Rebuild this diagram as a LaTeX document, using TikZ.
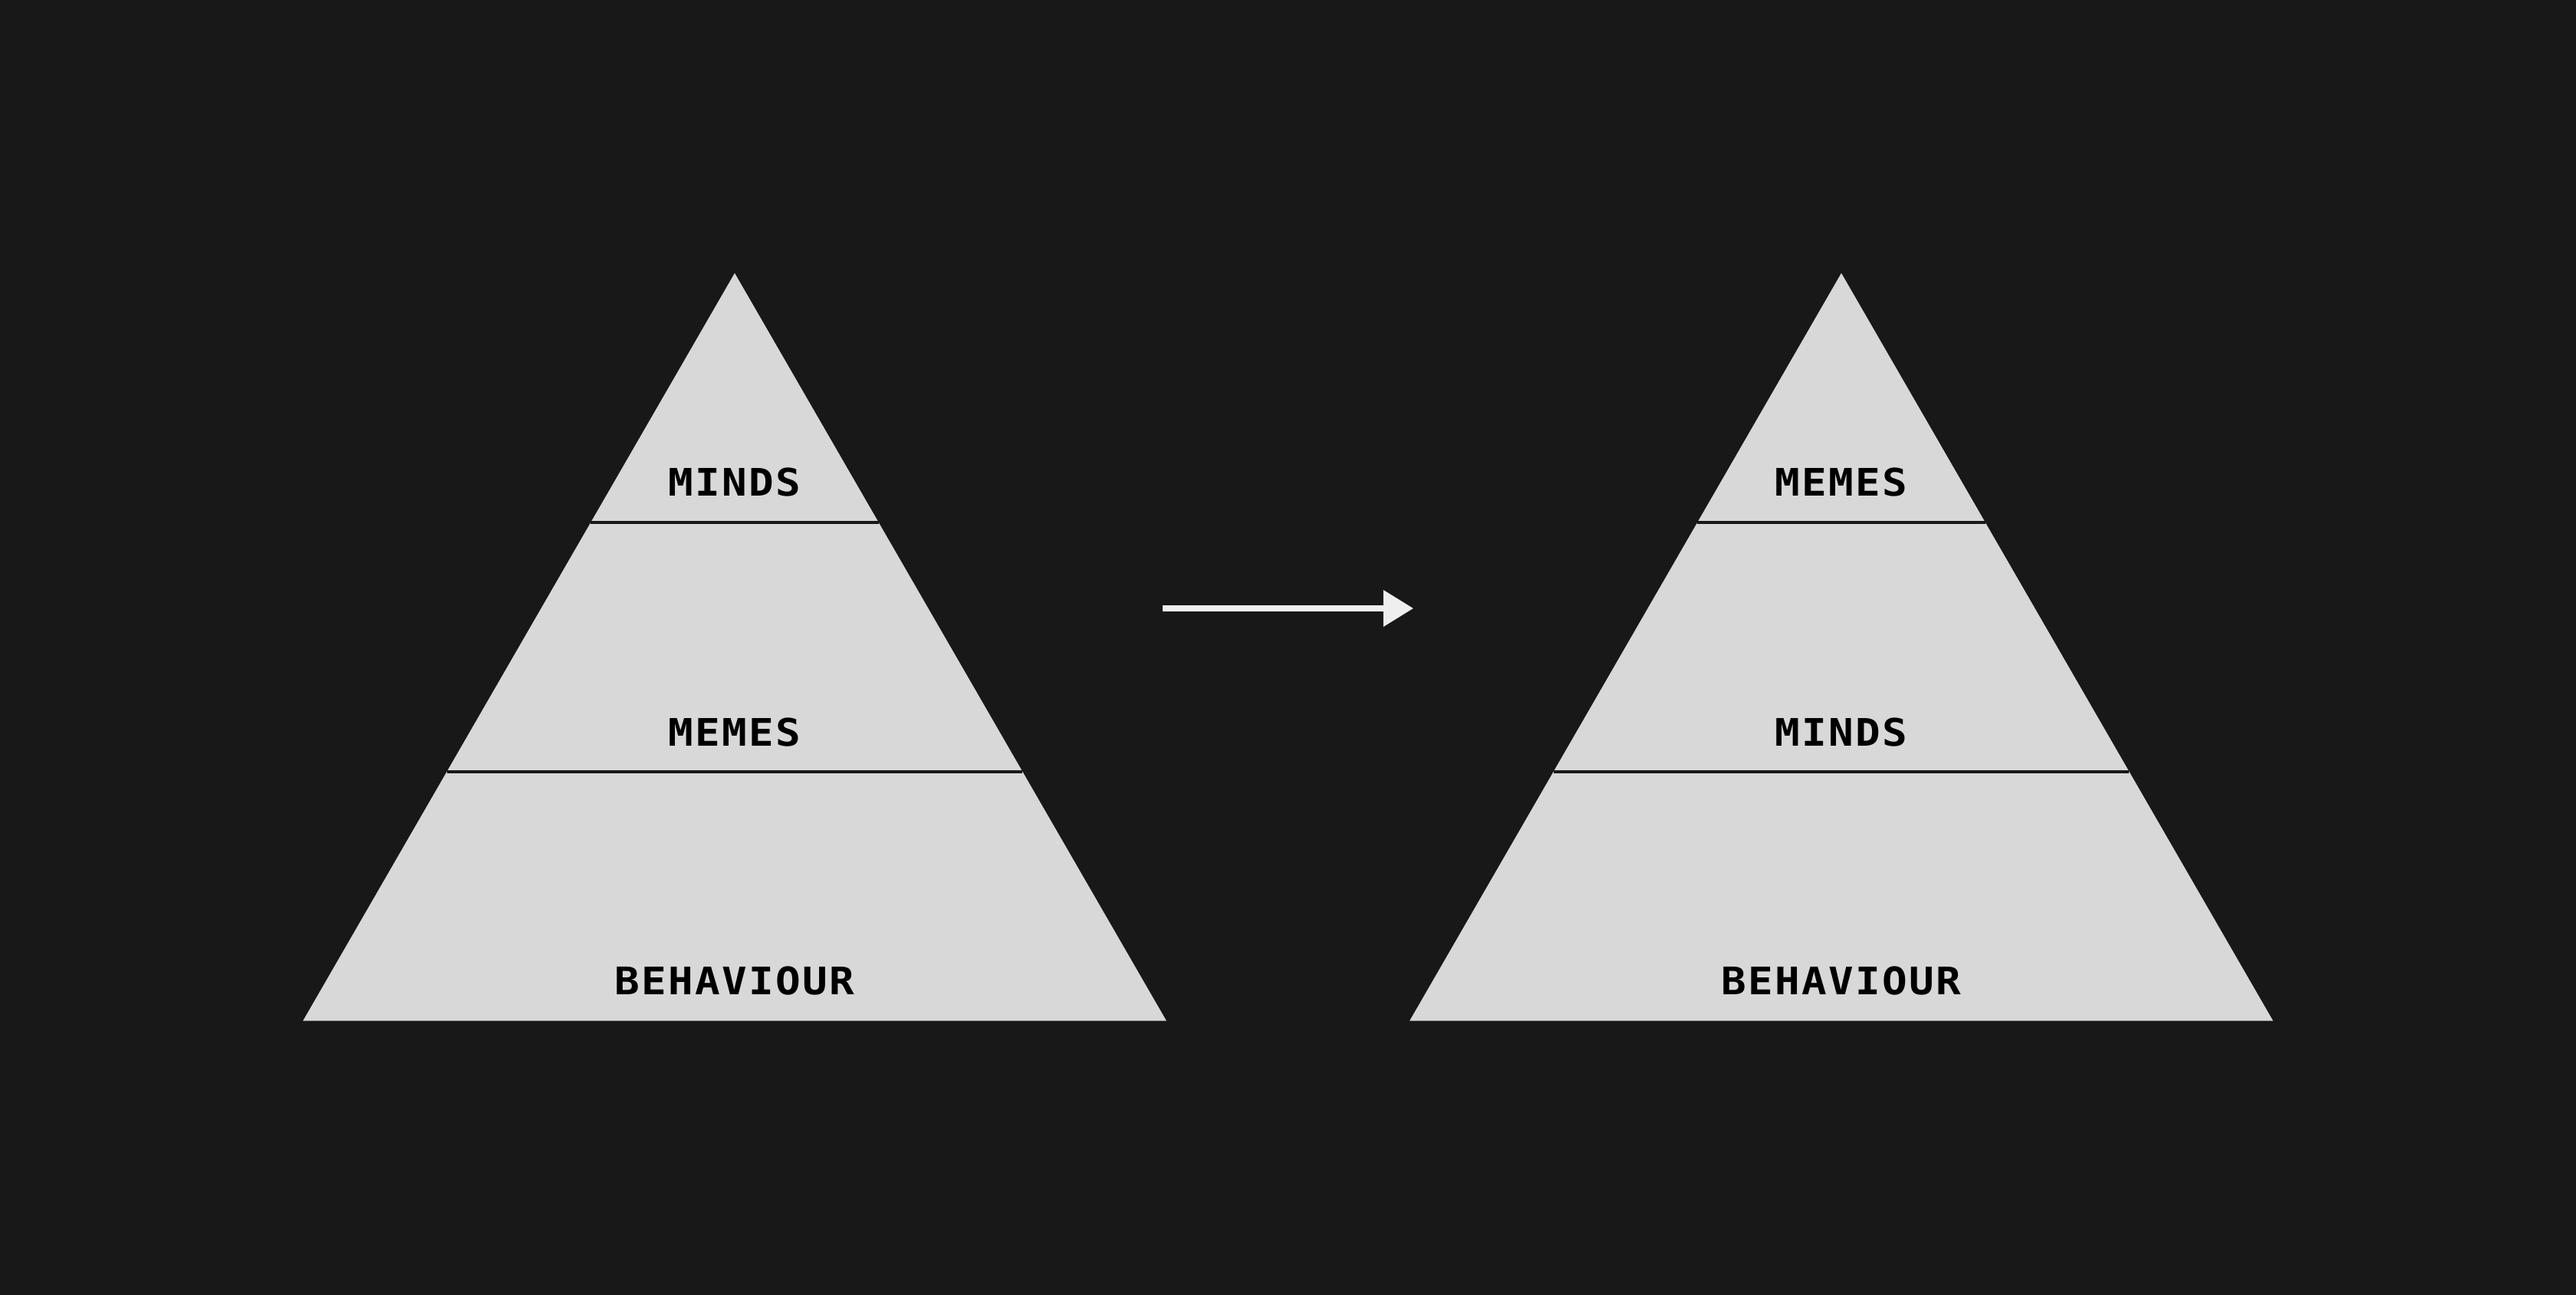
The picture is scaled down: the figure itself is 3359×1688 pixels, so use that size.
\documentclass[tikz,border=0pt]{standalone}
\usepackage{fontspec}
\newfontfamily\pyrfont{DejaVu Sans Mono}[FakeStretch=1.1,LetterSpace=4.6]
\usetikzlibrary{arrows.meta,calc}
\definecolor{bgcol}{HTML}{181818}
\definecolor{pyrcol}{HTML}{D8D8D8}
\definecolor{arrcol}{HTML}{EFEFEF}
\tikzset{
  layer/.style={fill=pyrcol},
  sep/.style={draw=bgcol,line width=0.95pt},
  lbl/.style={anchor=base,inner sep=0pt,text=black,font=\pyrfont\bfseries\fontsize{12.35}{14}\selectfont},
  arr/.style={draw=arrcol,line width=1.93pt,-{Triangle[length=9.8pt,width=11.5pt]}}
}
\begin{document}
\begin{tikzpicture}[x=0.25pt,y=-0.25pt]
%Фон
\fill[bgcol] (0,0) rectangle (3359,1688);
\useasboundingbox (0,0) rectangle (3359,1688);

%Левая пирамида
\coordinate (LA) at (958,356);
\coordinate (LL) at (395,1330.7);
\coordinate (LR) at (1521,1330.7);
\fill[layer] (LA)--(LL)--(LR)--cycle;
\draw[sep] ($(LA)!1/3!(LL)$)--($(LA)!1/3!(LR)$);
\draw[sep] ($(LA)!2/3!(LL)$)--($(LA)!2/3!(LR)$);
\node[lbl] (lminds) at (958,647) {MINDS};
\node[lbl] (lmemes) at (958,972) {MEMES};
\node[lbl] (lbeh) at (958,1296) {BEHAVIOUR};

%Правая пирамида
\coordinate (RA) at (2401,356);
\coordinate (RL) at (1838,1330.7);
\coordinate (RR) at (2964,1330.7);
\fill[layer] (RA)--(RL)--(RR)--cycle;
\draw[sep] ($(RA)!1/3!(RL)$)--($(RA)!1/3!(RR)$);
\draw[sep] ($(RA)!2/3!(RL)$)--($(RA)!2/3!(RR)$);
\node[lbl] (rmemes) at (2401,647) {MEMES};
\node[lbl] (rminds) at (2401,972) {MINDS};
\node[lbl] (rbeh) at (2401,1296) {BEHAVIOUR};

%Стрелка
\coordinate (as) at (1516,793);
\coordinate (ae) at (1843,793);
\draw[arr] (as)--(ae);

\end{tikzpicture}
\end{document}
